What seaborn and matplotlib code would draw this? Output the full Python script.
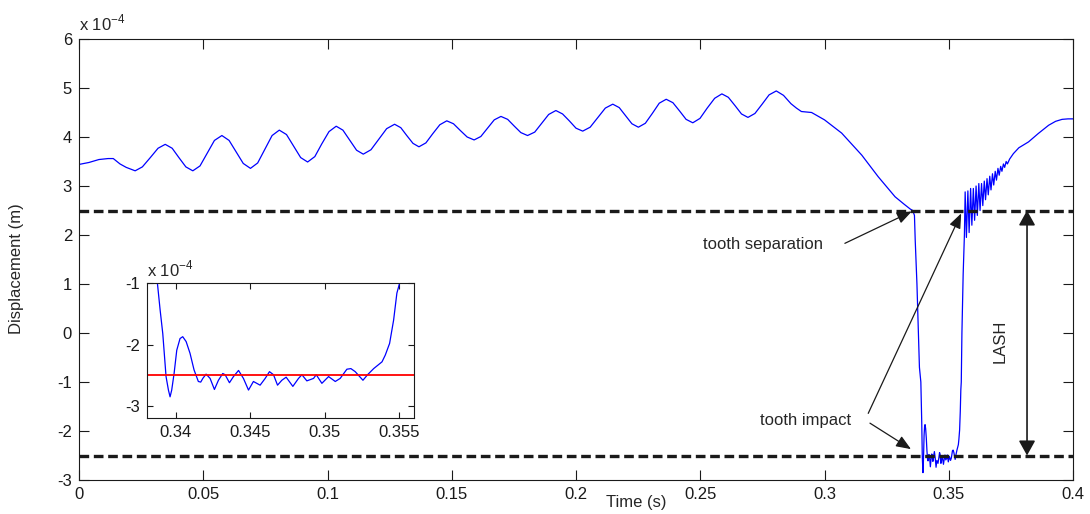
import matplotlib
matplotlib.use("Agg")
import matplotlib.pyplot as plt
import numpy as np
import pandas as pd
import seaborn as sns

# ---------------- data (displacement in units of 1e-4 m) ----------------
time_free = [0.000, 0.004, 0.008, 0.0117, 0.0138, 0.0165, 0.019, 0.0226,
             0.0255, 0.0287, 0.0318, 0.0347,
             0.0375, 0.0402, 0.043, 0.0458,
             0.0487, 0.0516, 0.0545, 0.0575,
             0.0604, 0.0632, 0.0661, 0.069,
             0.0719, 0.0748, 0.0777, 0.0806,
             0.0835, 0.0863, 0.0892, 0.092,
             0.0949, 0.0977, 0.1006, 0.1035,
             0.1062, 0.1089, 0.1117, 0.1144,
             0.1175, 0.1207, 0.1238, 0.127,
             0.1295, 0.1319, 0.1344, 0.1368,
             0.1396, 0.1424, 0.1452, 0.148,
             0.1507, 0.1535, 0.1562, 0.159,
             0.1617, 0.1644, 0.1671, 0.1698,
             0.1725, 0.1752, 0.1778, 0.1805,
             0.1834, 0.1862, 0.189, 0.1919,
             0.1946, 0.1973, 0.2, 0.2027,
             0.2057, 0.2088, 0.2118, 0.2148,
             0.2174, 0.22, 0.2225, 0.2251,
             0.2279, 0.2307, 0.2335, 0.2363,
             0.239, 0.2417, 0.2443, 0.247,
             0.2499, 0.2528, 0.2558, 0.2587,
             0.2613, 0.264, 0.2666, 0.2692,
             0.272, 0.2749, 0.2777, 0.2806,
             0.2835, 0.2865, 0.2887, 0.2907, 0.2948, 0.300, 0.3069, 0.315,
             0.3216, 0.3284, 0.332, 0.3345, 0.3355,
             0.3362, 0.3365, 0.3372, 0.3378, 0.3382]
disp_free = [3.44, 3.48, 3.54, 3.56, 3.56, 3.45, 3.38, 3.31,
             3.39, 3.58, 3.77, 3.85,
             3.77, 3.58, 3.39, 3.31,
             3.41, 3.67, 3.93, 4.03,
             3.93, 3.70, 3.46, 3.36,
             3.47, 3.75, 4.03, 4.14,
             4.05, 3.82, 3.58, 3.49,
             3.60, 3.86, 4.11, 4.22,
             4.14, 3.94, 3.73, 3.65,
             3.74, 3.96, 4.17, 4.26,
             4.19, 4.03, 3.87, 3.80,
             3.88, 4.07, 4.25, 4.33,
             4.27, 4.13, 4.00, 3.94,
             4.01, 4.18, 4.35, 4.42,
             4.36, 4.22, 4.09, 4.03,
             4.10, 4.28, 4.46, 4.54,
             4.47, 4.33, 4.18, 4.12,
             4.20, 4.40, 4.59, 4.67,
             4.60, 4.43, 4.27, 4.20,
             4.28, 4.48, 4.69, 4.77,
             4.70, 4.53, 4.36, 4.29,
             4.38, 4.59, 4.79, 4.88,
             4.81, 4.64, 4.47, 4.40,
             4.48, 4.67, 4.86, 4.94,
             4.85, 4.68, 4.59, 4.52, 4.50, 4.35, 4.08, 3.63,
             3.19, 2.78, 2.63, 2.53, 2.50,
             2.40, 1.90, 1.00, 0.00, -0.70]

time_contact = [0.33877, 0.33895, 0.33913, 0.33935, 0.33951, 0.33962, 0.33973,
                0.33989, 0.34007, 0.34029, 0.34047, 0.34070, 0.34096, 0.34123,
                0.34152, 0.34168, 0.34182, 0.34204, 0.34231, 0.34260, 0.34287,
                0.34316, 0.34332, 0.34361, 0.34388, 0.34422, 0.34455, 0.34489,
                0.34522, 0.34567, 0.34601, 0.34630, 0.34657, 0.34684, 0.34713,
                0.34742, 0.34787, 0.34825, 0.34848, 0.34881, 0.34926, 0.34944,
                0.34982, 0.35027, 0.35072, 0.35105, 0.35150, 0.35177, 0.35206,
                0.35258, 0.35289, 0.35330, 0.35386, 0.35408, 0.35437, 0.35464,
                0.35486, 0.35504]
disp_contact = [-1.00, -1.43, -1.82, -2.52, -2.74, -2.85, -2.74,
                -2.47, -2.09, -1.90, -1.87, -1.95, -2.14, -2.41,
                -2.60, -2.61, -2.55, -2.48, -2.55, -2.73, -2.58,
                -2.47, -2.49, -2.62, -2.52, -2.42, -2.55, -2.74,
                -2.60, -2.66, -2.55, -2.44, -2.49, -2.66, -2.58,
                -2.53, -2.68, -2.55, -2.49, -2.59, -2.55, -2.49,
                -2.63, -2.52, -2.60, -2.55, -2.40, -2.39, -2.44,
                -2.58, -2.49, -2.39, -2.28, -2.17, -1.98, -1.60,
                -1.16, -1.00]

time_rebound = [0.3553, 0.3558, 0.3563, 0.3566, 0.3571, 0.3577, 0.3582, 0.3588,
                0.3593, 0.3599, 0.3604, 0.3610, 0.3615, 0.3621, 0.3626, 0.3632,
                0.3637, 0.3643, 0.3648, 0.3654, 0.3659, 0.3665, 0.3670, 0.3676,
                0.3681, 0.3687, 0.3692, 0.3698, 0.3703, 0.3709, 0.3714, 0.3720,
                0.3725, 0.3731, 0.3736, 0.3745, 0.3760, 0.3782, 0.3821, 0.3860,
                0.3902, 0.3930, 0.3956, 0.3980, 0.4000]
disp_rebound = [0.00, 1.20, 2.00, 2.88, 1.95, 2.90, 2.05, 2.95,
                2.20, 2.95, 2.30, 3.00, 2.40, 3.05, 2.50, 3.05,
                2.60, 3.10, 2.72, 3.15, 2.82, 3.20, 2.92, 3.25,
                3.02, 3.30, 3.12, 3.36, 3.22, 3.40, 3.30, 3.45,
                3.38, 3.50, 3.45, 3.55, 3.66, 3.78, 3.90, 4.07,
                4.24, 4.32, 4.36, 4.37, 4.37]

lash_level = 2.5
main_xticks = [0, 0.05, 0.1, 0.15, 0.2, 0.25, 0.3, 0.35, 0.4]
main_xticklabels = ["0", "0.05", "0.1", "0.15", "0.2", "0.25", "0.3", "0.35", "0.4"]
main_yticks = [-3, -2, -1, 0, 1, 2, 3, 4, 5, 6]
inset_xticks = [0.34, 0.345, 0.35, 0.355]
inset_xticklabels = ["0.34", "0.345", "0.35", "0.355"]
inset_yticks = [-3, -2, -1]

df = pd.DataFrame({
    "t": time_free + time_contact + time_rebound,
    "d": disp_free + disp_contact + disp_rebound,
})

# ---------------- style ----------------
sns.set_theme(style="ticks")
plt.rcParams["font.family"] = ["Liberation Sans", "DejaVu Sans"]
plt.rcParams["axes.linewidth"] = 0.8
plt.rcParams["axes.unicode_minus"] = False
BLUE = "#0000ff"
FS = 12

fig = plt.figure(figsize=(10.9, 5.14), dpi=100)
ax = fig.add_axes([79 / 1090, 1 - 480 / 514, 994 / 1090, 441 / 514])

sns.lineplot(data=df, x="t", y="d", ax=ax, color=BLUE, lw=0.9,
             sort=False, estimator=None)
dash = (0, (2.9, 1.4))
ax.axhline(lash_level, color="k", lw=2.4, ls=dash, zorder=3)
ax.axhline(-lash_level, color="k", lw=2.4, ls=dash, zorder=3)

ax.set_xlim(0, 0.4)
ax.set_ylim(-3, 6)
ax.set_xticks(main_xticks)
ax.set_xticklabels(main_xticklabels)
ax.set_yticks(main_yticks)
ax.tick_params(direction="in", length=7, width=0.8, top=True, right=True,
               labelsize=FS, pad=5, colors="k")
for s in ax.spines.values():
    s.set_visible(True)
    s.set_color("k")
ax.set_xlabel("Time (s)", fontsize=FS)
ax.xaxis.set_label_coords((636 - 79) / 994, (480 - 495) / 441)
ax.set_ylabel("Displacement (m)", fontsize=FS, rotation=90)
ax.yaxis.set_label_coords((24 - 79) / 994, (480 - 269) / 441)
ax.text(0, 1.012, "x 10$^{\\mathregular{-4}}$", transform=ax.transAxes, fontsize=FS,
        ha="left", va="bottom")

# annotations
head = "-|>,head_length=0.45,head_width=0.18"
ax.text(0.2511, 1.81, "tooth separation", fontsize=FS, ha="left", va="center")
ax.annotate("", xy=(0.3351, 2.48), xytext=(0.3082, 1.83),
            arrowprops=dict(arrowstyle=head, color="k", lw=0.9,
                            mutation_scale=20, shrinkA=0, shrinkB=0))
ax.text(0.2739, -1.78, "tooth impact", fontsize=FS, ha="left", va="center")
ax.annotate("", xy=(0.355, 2.44), xytext=(0.3176, -1.64),
            arrowprops=dict(arrowstyle=head, color="k", lw=0.9,
                            mutation_scale=20, shrinkA=0, shrinkB=0))
ax.annotate("", xy=(0.3348, -2.37), xytext=(0.3183, -1.84),
            arrowprops=dict(arrowstyle=head, color="k", lw=0.9,
                            mutation_scale=20, shrinkA=0, shrinkB=0))
ax.annotate("", xy=(0.3815, lash_level), xytext=(0.3815, -lash_level),
            arrowprops=dict(arrowstyle="<|-|>,head_length=0.45,head_width=0.25",
                            color="k", lw=1.2, mutation_scale=20,
                            shrinkA=0, shrinkB=0))
ax.text(0.3705, -0.16, "LASH", fontsize=FS, rotation=90, ha="center", va="center")

# ---------------- inset ----------------
ins = fig.add_axes([146.7 / 1090, 1 - 418.3 / 514, 267.6 / 1090, 135 / 514])
ins.set_facecolor("white")
sns.lineplot(data=df, x="t", y="d", ax=ins, color=BLUE, lw=0.9,
             sort=False, estimator=None)
ins.axhline(-lash_level, color="#ff0000", lw=1.3)
ins.set_xlim(0.33805, 0.35603)
ins.set_ylim(-3.2, -1)
ins.set_xticks(inset_xticks)
ins.set_xticklabels(inset_xticklabels)
ins.set_yticks(inset_yticks)
ins.tick_params(direction="in", length=4, width=0.8, top=True, right=True,
                labelsize=FS, pad=5, colors="k")
for s in ins.spines.values():
    s.set_visible(True)
    s.set_color("k")
ins.set_xlabel("")
ins.set_ylabel("")
ins.text(0, 1.03, "x 10$^{\\mathregular{-4}}$", transform=ins.transAxes, fontsize=FS,
         ha="left", va="bottom")

fig.savefig("out.png", dpi=100, facecolor="white")
